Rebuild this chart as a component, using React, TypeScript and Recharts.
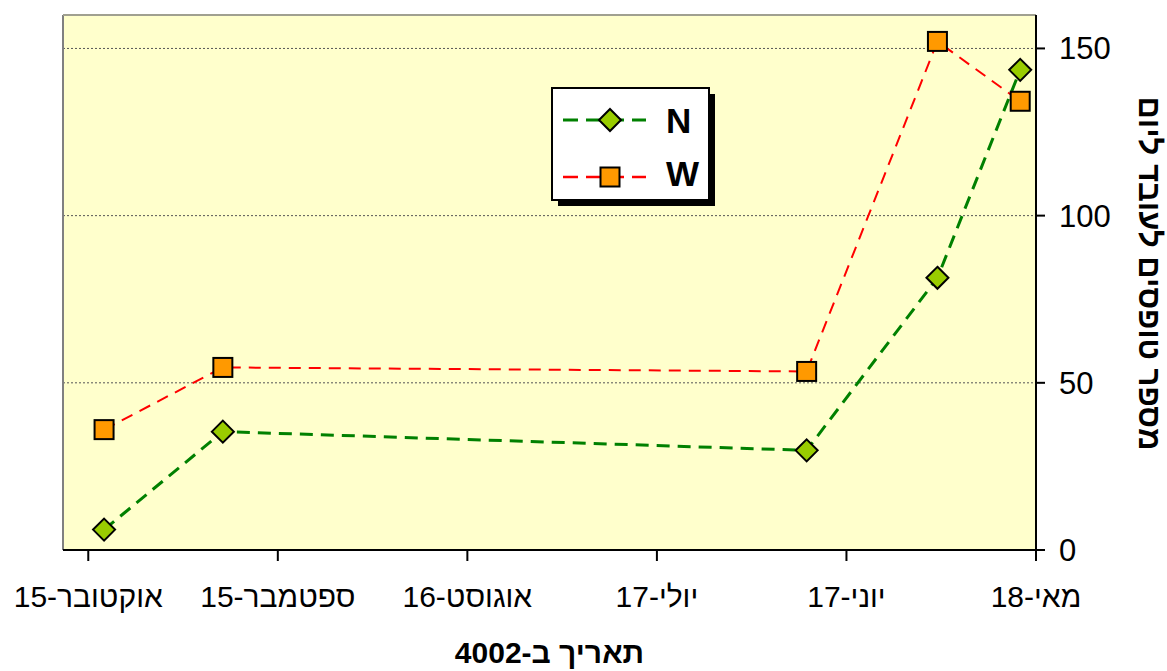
import React from "react";
import { LineChart, Line, XAxis, YAxis, CartesianGrid, Legend, ReferenceLine } from "recharts";

// days counted from 18 May 2004 (axis runs right-to-left)
const days = [147.5, 128.7, 36.3, 15.6, 2.5];
const nValues = [6.1, 35.4, 29.8, 81.4, 143.6];
const wValues = [36.0, 54.6, 53.4, 152.1, 134.2];

const tickDays = [0, 30, 60, 90, 120, 150];
const tickLabels = ["18-מאי", "17-יוני", "17-יולי", "16-אוגוסט", "15-ספטמבר", "15-אוקטובר"];
const yTicks = [0, 50, 100, 150];

// drawn fully right-to-left (bidi override), the way the original shows it
const xTitle = ["תאריך", " ", "ב", "-", "2004"].join("");
const yTitle = "מספר טופסים לעובד ליום";

const data = days.map((d, i) => ({ day: d, N: nValues[i], W: wValues[i] }));

const FONT = "'Liberation Sans', Arial, sans-serif";

const Diamond = ({ cx, cy }: any) => {
  if (cx == null || cy == null) return null;
  const r = 11;
  return (
    <path
      d={`M${cx},${cy - r}L${cx + r},${cy}L${cx},${cy + r}L${cx - r},${cy}Z`}
      fill="#99CC00"
      stroke="#000"
      strokeWidth={2}
    />
  );
};

const Square = ({ cx, cy }: any) => {
  if (cx == null || cy == null) return null;
  const s = 19;
  return <rect x={cx - s / 2} y={cy - s / 2} width={s} height={s} fill="#FF9900" stroke="#000" strokeWidth={2} />;
};

const LegendBox = () => (
  <svg width={170} height={125} style={{ display: "block" }}>
    <rect x={7} y={7} width={157} height={112} fill="#000" />
    <rect x={1} y={1} width={157} height={112} fill="#fff" stroke="#000" strokeWidth={2} />
    <line x1={12} y1={33} x2={95} y2={33} stroke="#008000" strokeWidth={3} strokeDasharray="15 8" />
    <path d="M59,22L70,33L59,44L48,33Z" fill="#99CC00" stroke="#000" strokeWidth={2} />
    <text x={115} y={46} fontFamily={FONT} fontWeight="bold" fontSize={35}>N</text>
    <line x1={12} y1={90} x2={95} y2={90} stroke="#FF0000" strokeWidth={2.5} strokeDasharray="15 8" />
    <rect x={49.5} y={80.5} width={19} height={19} fill="#FF9900" stroke="#000" strokeWidth={2} />
    <text x={115} y={99} fontFamily={FONT} fontWeight="bold" fontSize={35}>W</text>
  </svg>
);

const YTitle = ({ viewBox }: any) => {
  const cx = viewBox.x + 113;
  const cy = viewBox.y + viewBox.height / 2 - 9;
  return (
    <text
      x={cx}
      y={cy}
      transform={`rotate(90 ${cx} ${cy})`}
      textAnchor="middle"
      dominantBaseline="central"
      fontFamily={FONT}
      fontWeight="bold"
      fontSize={31}
      fill="#000"
    >
      {yTitle}
    </text>
  );
};

const XTitle = ({ viewBox }: any) => {
  const cx = viewBox.x + viewBox.width / 2;
  const cy = viewBox.y + 113;
  return (
    <text
      x={cx}
      y={cy}
      textAnchor="middle"
      style={{ direction: "rtl", unicodeBidi: "bidi-override" }}
      fontFamily={FONT}
      fontWeight="bold"
      fontSize={30}
      fill="#000"
    >
      {xTitle}
    </text>
  );
};

export default function App() {
  return (
    <div style={{ position: "absolute", left: 0, top: 0, width: 1167, height: 671, background: "#fff" }}>
      <LineChart width={1167} height={671} data={data} margin={{ top: 15, right: 0, bottom: 0, left: 63 }}>
        <CartesianGrid
          vertical={false}
          fill="#FFFFCC"
          stroke="#555"
          strokeDasharray="2 2"
          strokeWidth={1}
        />
        <XAxis
          dataKey="day"
          type="number"
          domain={[0, 154]}
          reversed
          ticks={tickDays}
          tickFormatter={(v: number) => tickLabels[tickDays.indexOf(v)]}
          height={121}
          axisLine={{ stroke: "#000", strokeWidth: 2 }}
          tickLine={{ stroke: "#000", strokeWidth: 2 }}
          tickSize={11}
          tickMargin={25}
          tick={{ fontFamily: FONT, fontSize: 30, fill: "#000" }}
          label={<XTitle />}
        />
        <YAxis
          orientation="right"
          domain={[0, 160]}
          ticks={yTicks}
          width={131}
          axisLine={{ stroke: "#000", strokeWidth: 2 }}
          tickLine={{ stroke: "#000", strokeWidth: 2 }}
          tickSize={9}
          tickMargin={14}
          tick={{ fontFamily: FONT, fontSize: 31, fill: "#000" }}
          label={<YTitle />}
        />
        <ReferenceLine x={154} stroke="#808080" strokeWidth={2} />
        <ReferenceLine y={160} stroke="#a0a090" strokeWidth={2} />
        <Legend
          layout="horizontal"
          verticalAlign="middle"
          align="center"
          content={() => <LegendBox />}
          wrapperStyle={{ position: "absolute", left: 551, top: 87, width: 170, height: 125 }}
        />
        <Line
          type="linear"
          dataKey="W"
          stroke="#FF0000"
          strokeWidth={2}
          strokeDasharray="12 8"
          dot={(p: any) => <Square key={`w${p.index}`} {...p} />}
          isAnimationActive={false}
        />
        <Line
          type="linear"
          dataKey="N"
          stroke="#008000"
          strokeWidth={3}
          strokeDasharray="13 8"
          dot={(p: any) => <Diamond key={`n${p.index}`} {...p} />}
          isAnimationActive={false}
        />
      </LineChart>
    </div>
  );
}
